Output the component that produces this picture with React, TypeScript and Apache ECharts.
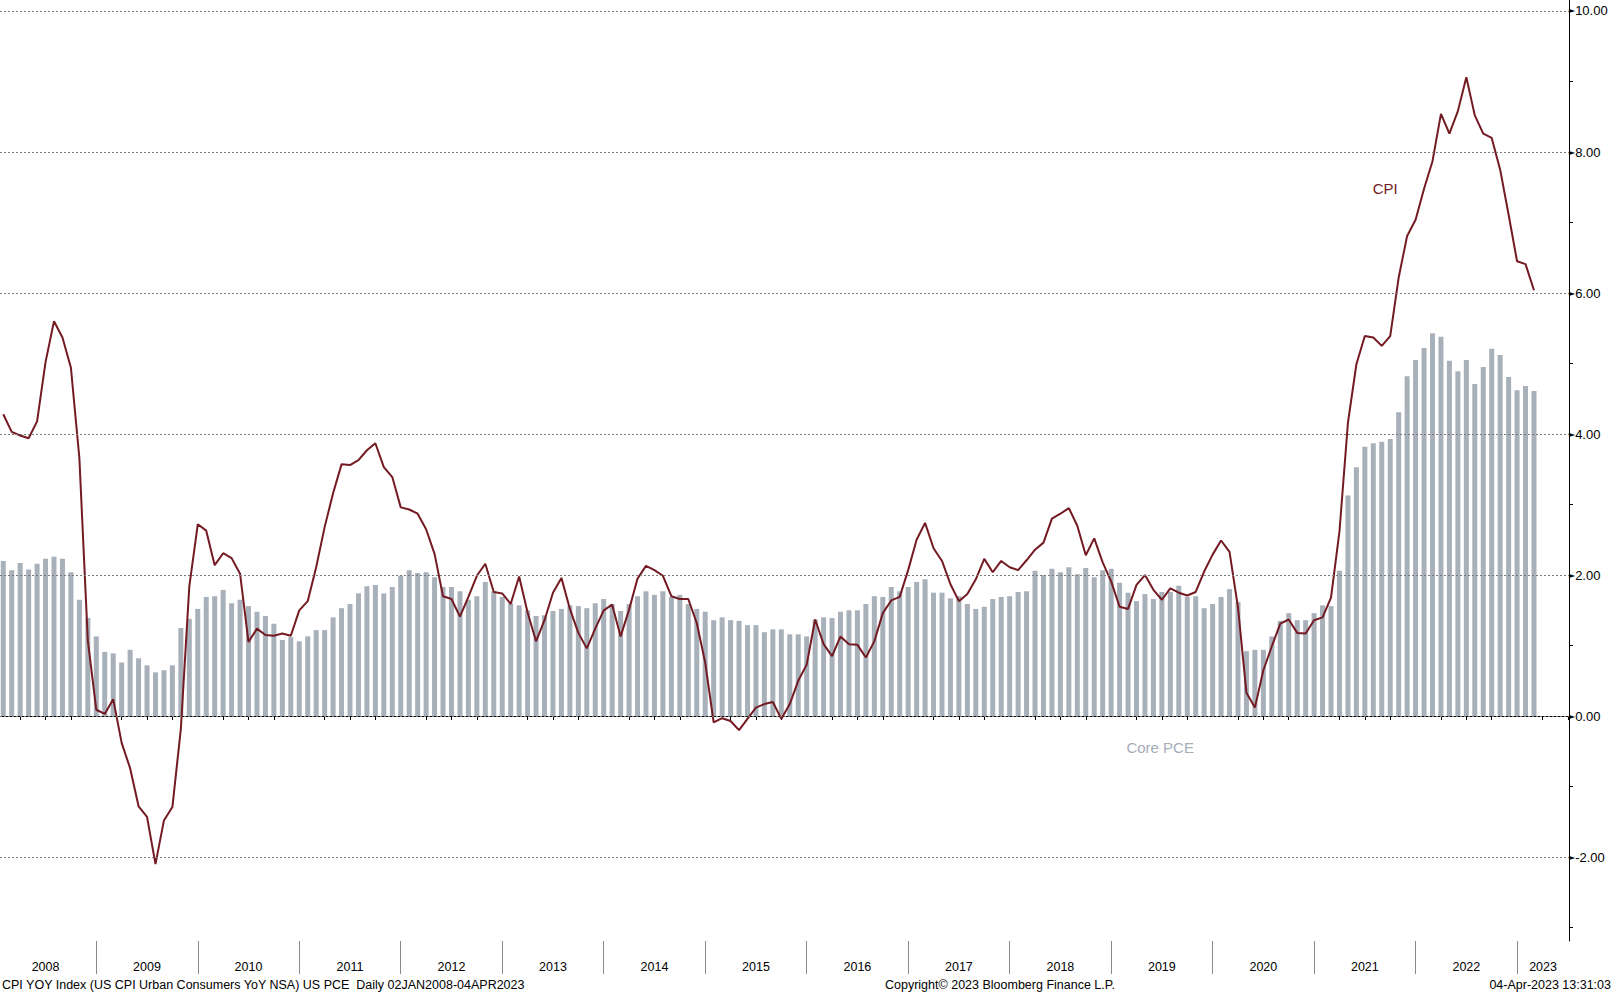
import React, { useEffect, useRef } from "react";
import * as echarts from "echarts";

// Monthly data, Jan 2008 .. Feb 2023 (plotted at month end)
const CPI_YOY: number[] = [
  4.28, 4.03, 3.98, 3.94, 4.18, 5.02, 5.60, 5.37, 4.94, 3.66, 1.07, 0.09,
  0.03, 0.24, -0.38, -0.74, -1.28, -1.43, -2.10, -1.48, -1.29, -0.18, 1.84, 2.72,
  2.63, 2.14, 2.31, 2.24, 2.02, 1.05, 1.24, 1.15, 1.14, 1.17, 1.14, 1.50,
  1.63, 2.11, 2.68, 3.16, 3.57, 3.56, 3.63, 3.77, 3.87, 3.53, 3.39, 2.96,
  2.93, 2.87, 2.65, 2.30, 1.70, 1.66, 1.41, 1.69, 1.99, 2.16, 1.76, 1.74,
  1.59, 1.98, 1.47, 1.06, 1.36, 1.75, 1.96, 1.52, 1.18, 0.96, 1.24, 1.50,
  1.58, 1.13, 1.51, 1.95, 2.13, 2.07, 1.99, 1.70, 1.66, 1.66, 1.32, 0.76,
  -0.09, -0.03, -0.07, -0.20, -0.04, 0.12, 0.17, 0.20, -0.04, 0.17, 0.50, 0.73,
  1.37, 1.02, 0.85, 1.13, 1.02, 1.01, 0.83, 1.06, 1.46, 1.64, 1.69, 2.07,
  2.50, 2.74, 2.38, 2.20, 1.87, 1.63, 1.73, 1.94, 2.23, 2.04, 2.20, 2.11,
  2.07, 2.21, 2.36, 2.46, 2.80, 2.87, 2.95, 2.70, 2.28, 2.52, 2.18, 1.91,
  1.55, 1.52, 1.86, 2.00, 1.79, 1.65, 1.81, 1.75, 1.71, 1.76, 2.05, 2.29,
  2.49, 2.33, 1.54, 0.33, 0.12, 0.65, 0.99, 1.31, 1.37, 1.18, 1.17, 1.36,
  1.40, 1.68, 2.62, 4.16, 4.99, 5.39, 5.37, 5.25, 5.39, 6.22, 6.81, 7.04,
  7.48, 7.87, 8.54, 8.26, 8.58, 9.06, 8.52, 8.26, 8.20, 7.75, 7.11, 6.45,
  6.41, 6.04,
];

const CORE_PCE_YOY: number[] = [
  2.20, 2.07, 2.17, 2.08, 2.16, 2.23, 2.26, 2.23, 2.04, 1.65, 1.39, 1.13,
  0.91, 0.89, 0.76, 0.94, 0.82, 0.72, 0.62, 0.65, 0.72, 1.25, 1.38, 1.52,
  1.69, 1.70, 1.79, 1.60, 1.65, 1.56, 1.48, 1.42, 1.31, 1.08, 1.12, 1.06,
  1.13, 1.22, 1.22, 1.40, 1.53, 1.59, 1.74, 1.84, 1.86, 1.74, 1.83, 1.99,
  2.07, 2.03, 2.04, 1.97, 1.83, 1.83, 1.77, 1.65, 1.70, 1.90, 1.77, 1.69,
  1.60, 1.57, 1.50, 1.42, 1.43, 1.49, 1.52, 1.57, 1.56, 1.53, 1.60, 1.66,
  1.59, 1.49, 1.59, 1.70, 1.77, 1.72, 1.77, 1.69, 1.72, 1.59, 1.52, 1.48,
  1.36, 1.40, 1.36, 1.35, 1.29, 1.29, 1.19, 1.23, 1.23, 1.16, 1.16, 1.13,
  1.37, 1.40, 1.39, 1.48, 1.50, 1.50, 1.59, 1.70, 1.69, 1.83, 1.77, 1.83,
  1.90, 1.94, 1.75, 1.75, 1.67, 1.70, 1.59, 1.52, 1.55, 1.66, 1.69, 1.70,
  1.76, 1.77, 2.06, 2.00, 2.09, 2.04, 2.11, 2.01, 2.10, 1.97, 2.07, 2.09,
  1.89, 1.75, 1.63, 1.73, 1.66, 1.76, 1.76, 1.85, 1.69, 1.70, 1.53, 1.59,
  1.69, 1.80, 1.62, 0.92, 0.94, 0.94, 1.13, 1.35, 1.46, 1.36, 1.36, 1.46,
  1.57, 1.56, 2.06, 3.13, 3.53, 3.82, 3.87, 3.89, 3.93, 4.31, 4.82, 5.05,
  5.22, 5.43, 5.38, 5.04, 4.89, 5.05, 4.71, 4.95, 5.21, 5.12, 4.81, 4.62,
  4.68, 4.61,
];

const FIRST_YEAR = 2008;
const YEARS: number[] = [2008, 2009, 2010, 2011, 2012, 2013, 2014, 2015, 2016, 2017, 2018, 2019, 2020, 2021, 2022, 2023];

// axis extents (months since Jan 2008; value %)
const X_MIN = 0.615;
const X_MAX = 186.14;
const Y_MIN = -3.19;
const Y_MAX = 10.156;

const Y_LABEL_TICKS: number[] = [-2, 0, 2, 4, 6, 8, 10];
const Y_MINOR_TICKS: number[] = [-3, -1, 1, 3, 5, 7, 9];

const YEAR_TICKS: number[] = YEARS.slice(1).map((y) => (y - FIRST_YEAR) * 12);
const QUARTER_TICKS: number[] = YEARS.flatMap((y) => [3, 6, 9].map((q) => (y - FIRST_YEAR) * 12 + q)).filter((v) => v < X_MAX);
const YEAR_LABEL_POS: number[] = YEARS.map((y) => {
  const start = (y - FIRST_YEAR) * 12;
  return Math.min(start + 12, X_MAX) / 2 + start / 2;
});

const CPI_LABEL_POS: number[] = [164.4, 7.48];
const PCE_LABEL_POS: number[] = [137.8, -0.44];

const FOOTER_LEFT = "CPI YOY Index (US CPI Urban Consumers YoY NSA) US PCE  Daily 02JAN2008-04APR2023";
const FOOTER_MID = "Copyright\u00A9 2023 Bloomberg Finance L.P.";
const FOOTER_RIGHT = "04-Apr-2023 13:31:03";

const FONT = "'Liberation Sans', Arial, sans-serif";
const RED = "#741a23";
const GRAY_BAR = "#a8b0ba";

export default function App() {
  const ref = useRef<HTMLDivElement>(null);

  useEffect(() => {
    if (!ref.current) return;
    const chart = echarts.init(ref.current, undefined, { renderer: "svg" });

    const option: any = {
      animation: false,
      backgroundColor: "#ffffff",
      textStyle: { fontFamily: FONT },
      grid: { left: 0, right: 45, top: 0, bottom: 52, containLabel: false },
      xAxis: [
        {
          type: "value",
          min: X_MIN,
          max: X_MAX,
          position: "bottom",
          axisLine: { show: true, lineStyle: { color: "#000", width: 1 } },
          axisTick: { show: true, customValues: QUARTER_TICKS, length: 4, lineStyle: { color: "#000", width: 1 } },
          axisLabel: {
            show: true,
            customValues: YEAR_LABEL_POS,
            formatter: (v: number) => String(FIRST_YEAR + Math.floor(v / 12)),
            margin: 19,
            fontSize: 12.5,
            color: "#000",
            fontFamily: FONT,
          },
          splitLine: { show: false },
        },
        {
          type: "value",
          min: X_MIN,
          max: X_MAX,
          position: "bottom",
          offset: 0,
          axisLine: { show: false },
          axisTick: { show: true, customValues: YEAR_TICKS, length: 33, lineStyle: { color: "#8a8a8a", width: 1 } },
          axisLabel: { show: false },
          splitLine: { show: false },
        },
      ],
      yAxis: {
        type: "value",
        position: "right",
        min: Y_MIN,
        max: Y_MAX,
        axisLine: { show: true, lineStyle: { color: "#000", width: 1 } },
        axisTick: { show: true, customValues: Y_MINOR_TICKS, length: 4, inside: false, lineStyle: { color: "#000" } },
        axisLabel: {
          show: true,
          customValues: Y_LABEL_TICKS,
          margin: 0,
          formatter: (v: number) => "{a|\u25BA}{b|" + v.toFixed(2) + "}",
          rich: {
            a: { fontSize: 8, color: "#000", fontFamily: "'DejaVu Sans'", verticalAlign: "middle" },
            b: { fontSize: 13, color: "#000", fontFamily: FONT, verticalAlign: "middle" },
          },
        },
        splitLine: { show: false },
      },
      series: [
        {
          type: "line",
          name: "grid",
          data: [],
          silent: true,
          z: 1,
          markLine: {
            silent: true,
            symbol: ["none", "none"],
            label: { show: false },
            lineStyle: { color: "#7a7a7a", type: [2, 2], width: 1 },
            data: Y_LABEL_TICKS.map((v) => ({ yAxis: v })),
          },
        },
        {
          type: "bar",
          name: "Core PCE",
          data: CORE_PCE_YOY.map((v, i) => [i + 1, v]),
          barWidth: 5,
          itemStyle: { color: GRAY_BAR },
          z: 2,
          markPoint: {
            symbol: "circle",
            symbolSize: 1,
            itemStyle: { color: "rgba(0,0,0,0)" },
            label: { show: true, position: "inside", formatter: "Core PCE", color: "#a4adb8", fontSize: 15, fontFamily: FONT },
            data: [{ coord: PCE_LABEL_POS }],
          },
        },
        {
          type: "line",
          name: "CPI",
          data: CPI_YOY.map((v, i) => [i + 1, v]),
          showSymbol: false,
          symbol: "none",
          lineStyle: { color: RED, width: 2 },
          itemStyle: { color: RED },
          z: 3,
          markPoint: {
            symbol: "circle",
            symbolSize: 1,
            itemStyle: { color: "rgba(0,0,0,0)" },
            label: { show: true, position: "inside", formatter: "CPI", color: RED, fontSize: 15, fontFamily: FONT },
            data: [{ coord: CPI_LABEL_POS }],
          },
        },
      ],
      graphic: [
        { type: "text", left: 2, top: 978, style: { text: FOOTER_LEFT, fontSize: 12.5, fontFamily: FONT, fill: "#000" } },
        { type: "text", left: 885, top: 978, style: { text: FOOTER_MID, fontSize: 12.5, fontFamily: FONT, fill: "#000" } },
        { type: "text", right: 3, top: 978, style: { text: FOOTER_RIGHT, fontSize: 12.5, fontFamily: FONT, fill: "#000" } },
      ],
    };

    chart.setOption(option);
    return () => chart.dispose();
  }, []);

  return (
    <div
      ref={ref}
      style={{ position: "absolute", left: 0, top: 0, width: 1614, height: 993, background: "#fff" }}
    />
  );
}
